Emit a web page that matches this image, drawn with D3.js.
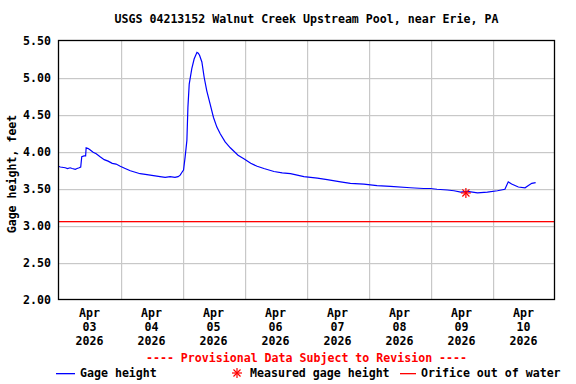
<!DOCTYPE html>
<html>
<head>
<meta charset="utf-8">
<script src="https://cdn.jsdelivr.net/npm/d3@7"></script>
<style>
  html, body { margin: 0; padding: 0; background: #fff; }
  svg text { font-family: "DejaVu Sans Mono", "Liberation Mono", monospace; font-weight: bold; font-size: 11.6px; }
</style>
</head>
<body>
<svg id="chart" width="576" height="384"></svg>
<script>
// ---- data ----
const titleText = "USGS 04213152 Walnut Creek Upstream Pool, near Erie, PA";
const yAxisTitle = "Gage height, feet";
const yTicks = [2.0, 2.5, 3.0, 3.5, 4.0, 4.5, 5.0, 5.5];
const dayLabels = ["Apr 03 2026", "Apr 04 2026", "Apr 05 2026", "Apr 06 2026",
                   "Apr 07 2026", "Apr 08 2026", "Apr 09 2026", "Apr 10 2026"];
// hours after 2026-04-03 00:00
const hoursSinceStart = [
  0, 0.7, 2.6, 3.5, 4.5, 5.3, 6.5, 7.2, 8.0, 8.6, 9.0, 9.9, 10.5, 10.7, 11.5, 12.3, 13.4,
  14.6, 16.1, 17.7, 19.2, 20.8, 22.3, 23.9, 25.8, 27.8, 29.7, 31.6, 33.6, 35.5, 37.4,
  39.3, 41.3, 43.2, 45.1, 46.3, 47.1, 47.8, 48.4, 49.0, 49.7, 50.1, 50.6, 51.6, 52.5,
  53.6, 54.1, 54.6, 55.5, 56.4, 57.4, 58.7, 60.0, 61.3, 62.6, 64.5, 66.5, 69.5, 71.9,
  74.4, 76.9, 79.5, 83.4, 86.6, 89.8, 95.0, 100.2, 104.0, 109.2, 113.0, 118.2, 123.3,
  128.5, 136.2, 141.3, 144.0, 146.5, 150.5, 153.1, 155.7, 158.3, 162.2, 166.0, 169.9,
  172.8, 174.1, 175.4, 178.0, 180.6, 181.9, 183.2, 184.7
];
const gageHeight = [
  3.80, 3.79, 3.78, 3.77, 3.78, 3.77, 3.76, 3.77, 3.78, 3.79, 3.93, 3.94, 3.94, 4.05, 4.04, 4.02, 3.99,
  3.97, 3.93, 3.89, 3.87, 3.84, 3.83, 3.80, 3.77, 3.74, 3.72, 3.70, 3.69, 3.68, 3.67,
  3.66, 3.65, 3.66, 3.65, 3.66, 3.68, 3.72, 3.75, 3.92, 4.15, 4.60, 4.91, 5.12, 5.25,
  5.34, 5.33, 5.30, 5.21, 5.00, 4.82, 4.64, 4.46, 4.33, 4.24, 4.13, 4.05, 3.95, 3.90,
  3.84, 3.80, 3.77, 3.73, 3.71, 3.70, 3.66, 3.64, 3.62, 3.59, 3.57, 3.56, 3.54,
  3.53, 3.51, 3.50, 3.50, 3.49, 3.48, 3.47, 3.45, 3.46, 3.44, 3.45, 3.47,
  3.49, 3.59, 3.56, 3.52, 3.51, 3.54, 3.57, 3.58
];
const measuredHours = [157.7];
const measuredHeight = [3.44];
const orificeLevel = [3.06];
const legendLabels = ["Gage height", "Measured gage height", "Orifice out of water"];
const provisionalText = "---- Provisional Data Subject to Revision ----";

// ---- layout ----
const svg = d3.select("#chart");
const plot = { left: 58.5, right: 554.5, top: 40.5, bottom: 299.5 };
const start = new Date(2026, 3, 3, 0, 0);
const end = new Date(2026, 3, 11, 0, 0);
const toDate = h => new Date(start.getTime() + h * 3600e3);

const x = d3.scaleTime().domain([start, end]).range([plot.left, plot.right]);
const y = d3.scaleLinear().domain([2.0, 5.5]).range([plot.bottom, plot.top]);

// title
svg.append("text").attr("x", (plot.left + plot.right) / 2).attr("y", 23)
  .attr("text-anchor", "middle").style("fill", "#000").text(titleText);

// gridlines
const dayTicks = d3.timeDay.range(d3.timeDay.offset(start, 1), end);
svg.append("g").selectAll("rect").data(dayTicks).join("rect")
  .attr("x", d => Math.round(x(d))).attr("width", 1.2)
  .attr("y", plot.top).attr("height", plot.bottom - plot.top)
  .style("fill", "#c8c8c8");
svg.append("g").selectAll("rect").data(yTicks.slice(1, -1)).join("rect")
  .attr("x", plot.left).attr("width", plot.right - plot.left)
  .attr("y", d => Math.round(y(d))).attr("height", 1.2)
  .style("fill", "#c8c8c8");

// orifice line
svg.append("rect").attr("x", plot.left).attr("width", plot.right - plot.left)
  .attr("y", Math.round(y(orificeLevel[0]))).attr("height", 1.3)
  .style("fill", "#ff0000");

// gage line
const data = hoursSinceStart.map((h, i) => ({ t: toDate(h), v: gageHeight[i] }));
svg.append("path").datum(data)
  .attr("d", d3.line().x(d => x(d.t)).y(d => y(d.v)))
  .style("fill", "none").style("stroke", "#0000ff").style("stroke-width", 1.2);

// measured point (asterisk)
function asterisk(g, cx, cy, r) {
  [0, 45, 90, 135].forEach(deg => {
    const rad = deg * Math.PI / 180;
    g.append("line")
      .attr("x1", cx - r * Math.cos(rad)).attr("y1", cy - r * Math.sin(rad))
      .attr("x2", cx + r * Math.cos(rad)).attr("y2", cy + r * Math.sin(rad))
      .style("stroke", "#ff0000").style("stroke-width", 1.2);
  });
}
measuredHours.forEach((h, i) => asterisk(svg, x(toDate(h)), y(measuredHeight[i]), 5));

// frame
svg.append("rect").attr("x", plot.left).attr("y", plot.top)
  .attr("width", plot.right - plot.left).attr("height", plot.bottom - plot.top)
  .style("fill", "none").style("stroke", "#000").style("stroke-width", 1.3);

// y tick labels
svg.append("g").selectAll("text").data(yTicks).join("text")
  .attr("x", 51).attr("y", d => y(d) + 4).attr("text-anchor", "end")
  .style("fill", "#000").text(d => d.toFixed(2));

// y axis title
svg.append("text").attr("transform", `translate(16,${(plot.top + plot.bottom) / 2 + 4}) rotate(-90)`)
  .attr("text-anchor", "middle").style("fill", "#000").text(yAxisTitle);

// x labels (centered at noon)
const dayStarts = d3.timeDay.range(start, end);
const xl = svg.append("g").selectAll("text").data(dayStarts).join("text")
  .attr("text-anchor", "middle").style("fill", "#000");
xl.each(function (d, i) {
  const cx = x(new Date(d.getTime() + 12 * 3600e3));
  const parts = dayLabels[i].split(" ");
  d3.select(this).selectAll("tspan").data(parts).join("tspan")
    .attr("x", cx).attr("y", (p, j) => 317 + j * 14).text(p => p);
});

// provisional
svg.append("text").attr("x", (plot.left + plot.right) / 2).attr("y", 362)
  .attr("text-anchor", "middle").style("fill", "#ff0000").text(provisionalText);

// legend
const ly = 373;
svg.append("rect").attr("x", 56).attr("width", 19).attr("y", ly).attr("height", 1.3)
  .style("fill", "#0000ff");
svg.append("text").attr("x", 80).attr("y", ly + 4).style("fill", "#000").text(legendLabels[0]);
asterisk(svg, 237, ly, 5);
svg.append("text").attr("x", 250).attr("y", ly + 4).style("fill", "#000").text(legendLabels[1]);
svg.append("rect").attr("x", 400).attr("width", 16).attr("y", ly).attr("height", 1.3)
  .style("fill", "#ff0000");
svg.append("text").attr("x", 421).attr("y", ly + 4).style("fill", "#000").text(legendLabels[2]);
</script>
</body>
</html>
